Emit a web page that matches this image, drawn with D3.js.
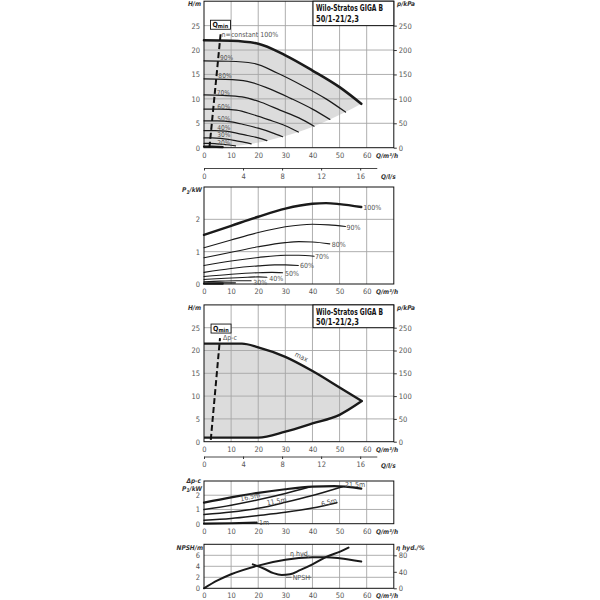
<!DOCTYPE html>
<html>
<head>
<meta charset="utf-8">
<script src="https://cdn.jsdelivr.net/npm/d3@7"></script>
<style>
body { margin: 0; background: #fff; }
svg text { font-family: "Liberation Sans Narrow", "DejaVu Sans Condensed", "DejaVu Sans", sans-serif; font-stretch: condensed; }
</style>
</head>
<body>
<script>
// ---- values ----
var qTicks = [0, 10, 20, 30, 40, 50, 60];      // Q in m3/h
var lsTicks = [0, 4, 8, 12, 16];               // Q in l/s
var hTicks = [0, 5, 10, 15, 20, 25];
var kpaTicks = [0, 50, 100, 150, 200, 250];
var pTicks = [0, 1, 2];
var npshTicks = [0, 2, 4, 6];
var etaTicks = [0, 40, 80];

var title1 = "Wilo-Stratos GIGA B";
var title2 = "50/1-21/2,3";

// panel 1: H(Q) at constant speed
var speedNames = ["90%", "80%", "70%", "60%", "50%", "40%", "30%", "20%"];
var head100 = [[0,22],[10,21.9],[20,21.3],[30,18.9],[40,15.8],[50,12.4],[58,9.0]];
var headSpeeds = [
  [[0,17.8],[9,17.7],[18,17.3],[27,15.3],[36,12.8],[45,10.0],[52.2,7.3]],
  [[0,14.1],[8,14.0],[16,13.6],[24,12.1],[32,10.1],[40,7.9],[46.4,5.8]],
  [[0,10.8],[7,10.7],[14,10.4],[21,9.3],[28,7.7],[35,6.1],[40.6,4.4]],
  [[0,7.9],[6,7.9],[12,7.7],[18,6.8],[24,5.7],[30,4.5],[34.8,3.2]],
  [[0,5.5],[5,5.5],[10,5.3],[15,4.7],[20,4.0],[25,3.1],[29,2.25]],
  [[0,3.5],[4,3.5],[8,3.4],[12,3.0],[16,2.5],[20,2.0],[23.2,1.44]],
  [[0,2.0],[3,2.0],[6,1.9],[9,1.7],[12,1.4],[15,1.1],[17.4,0.8]],
  [[0,0.9],[2,0.9],[4,0.85],[6,0.75],[8,0.63],[10,0.5],[11.6,0.36]]
];
var headMin = [[0,0.22],[3,0.2],[6.9,0.12]];
var headEnds = [[58,9.0],[52.2,7.3],[46.4,5.8],[40.6,4.4],[34.8,3.2],[29,2.25],[23.2,1.44],[17.4,0.8],[11.6,0.36],[5.8,0.09],[0,0]];
var qmin1 = [[2.0,0],[6.15,23.4]];

// panel 2: P1(Q) at constant speed
var powerNames = ["100%", "90%", "80%", "70%", "60%", "50%", "40%", "30%"];
var powerSpeeds = [
  [[0,1.52],[10,1.80],[20,2.08],[30,2.33],[40,2.48],[45,2.5],[50,2.47],[58,2.38]],
  [[0,1.12],[10,1.36],[20,1.59],[30,1.77],[40,1.85],[46,1.83],[52.2,1.78]],
  [[0,0.81],[10,0.98],[20,1.15],[30,1.28],[35,1.31],[40,1.30],[46.4,1.24]],
  [[0,0.57],[10,0.71],[20,0.82],[30,0.89],[35,0.89],[40.6,0.86]],
  [[0,0.36],[10,0.48],[20,0.56],[26,0.59],[30,0.59],[34.8,0.57]],
  [[0,0.23],[10,0.30],[20,0.35],[25,0.36],[29,0.35]],
  [[0,0.14],[8,0.18],[16,0.21],[20,0.22],[23.2,0.21]],
  [[0,0.07],[6,0.09],[12,0.10],[17.4,0.10]]
];
var power20 = [[0,0.03],[6,0.035],[11.6,0.035]];
var powerMin = [[0,0.01],[6.9,0.01]];

// panel 3: dp-c operating range
var maxUpper = [[0,21.5],[14,21.5],[20,20.7],[30,18.6],[40,15.5],[50,11.9],[58.2,8.9]];
var maxLower = [[58.2,8.9],[50,5.9],[40,4.0],[30,2.2],[20,0.9],[0,0.9]];
var qmin3 = [[2.5,0.4],[5.9,22.7]];

// panel 4: P1(Q) at dp-c set values
var dpNames = ["21.5m", "16.5m", "11.5m", "6.5m", "1m"];
var dpPower = [
  [[0,1.48],[10,1.85],[20,2.17],[30,2.42],[40,2.6],[48,2.64],[58,2.47]],
  [[0,0.99],[10,1.3],[20,1.68],[30,2.12],[39,2.58]],
  [[0,0.64],[10,0.82],[20,1.08],[30,1.5],[40,1.98],[51,2.6]],
  [[0,0.24],[10,0.36],[20,0.57],[30,0.8],[40,1.1],[49,1.48]],
  [[0,0.0],[10,0.03],[19.4,0.07]]
];

// panel 5: NPSH and hydraulic efficiency
var etaHyd = [[0,0],[5,19],[10,34],[20,55],[30,69],[40,75],[45,75.5],[50,73],[58,65]];
var npsh = [[18,4.36],[22,3.6],[25.6,2.75],[28.7,2.42],[31.7,2.55],[35.4,3.3],[40,4.36],[45.3,5.76],[50.2,6.67],[53.3,7.4]];

// ---- layout ----
var svg = d3.select("body").append("svg").attr("width", 600).attr("height", 600);
svg.append("rect").attr("width", 600).attr("height", 600).attr("fill", "#fff");

var x = d3.scaleLinear().domain([0, 70]).range([204, 393.8]);
var xls = d3.scaleLinear().domain([0, 17.7]).range([x(0), x(17.7 * 3.6)]);

var y1 = d3.scaleLinear().domain([0, 30]).range([147.7, 1.2]);
var kpa1 = d3.scaleLinear().domain([0, 300]).range([147.7, 1.2]);
var y2 = d3.scaleLinear().domain([0, 3]).range([284, 187]);
var y3 = d3.scaleLinear().domain([0, 30]).range([441.7, 304.9]);
var kpa3 = d3.scaleLinear().domain([0, 300]).range([441.7, 304.9]);
var y4 = d3.scaleLinear().domain([0, 3]).range([523.7, 481]);
var y5 = d3.scaleLinear().domain([0, 8]).range([588.3, 544.3]);
var eta5 = d3.scaleLinear().domain([0, 80]).range([y5(0), y5(6)]);

var gridCol = "#a6a6a6";
var fillCol = "#dcdcdc";
var tickCol = "#555";
var fmt = d3.format("d");

function lineFor(y) {
  return d3.line().x(function(d) { return x(d[0]); }).y(function(d) { return y(d[1]); }).curve(d3.curveMonotoneX);
}

function grid(y, hLines) {
  var g = svg.append("g");
  g.selectAll("line.v").data(qTicks.slice(1)).enter().append("line")
    .attr("x1", function(d) { return x(d); }).attr("x2", function(d) { return x(d); })
    .attr("y1", y.range()[0]).attr("y2", y.range()[1])
    .attr("stroke", gridCol).attr("stroke-width", 0.9);
  g.selectAll("line.h").data(hLines).enter().append("line")
    .attr("x1", x.range()[0]).attr("x2", x.range()[1])
    .attr("y1", function(d) { return y(d); }).attr("y2", function(d) { return y(d); })
    .attr("stroke", gridCol).attr("stroke-width", 0.9);
}

function frame(y) {
  svg.append("rect")
    .attr("x", x.range()[0]).attr("y", y.range()[1])
    .attr("width", x.range()[1] - x.range()[0]).attr("height", y.range()[0] - y.range()[1])
    .attr("fill", "none").attr("stroke", "#111").attr("stroke-width", 1);
}

function styleAxis(g) {
  g.attr("font-family", null).attr("font-size", null);
  g.selectAll("text").attr("font-size", "7.5px").attr("fill", tickCol);
  g.selectAll("line").attr("stroke", "#333");
}

function leftAxis(y, ticks) {
  svg.append("g").attr("transform", "translate(" + x(0) + ",0)")
    .call(d3.axisLeft(y).tickValues(ticks).tickFormat(fmt).tickSize(0).tickPadding(4))
    .call(function(g) { g.select(".domain").remove(); styleAxis(g); });
}

function rightAxis(s, ticks) {
  svg.append("g").attr("transform", "translate(" + x.range()[1] + ",0)")
    .call(d3.axisRight(s).tickValues(ticks).tickFormat(fmt).tickSize(3).tickPadding(2))
    .call(function(g) { g.select(".domain").remove(); styleAxis(g); });
}

function bottomAxis(y) {
  var y0 = y.range()[0];
  svg.append("g").attr("transform", "translate(0," + y0 + ")")
    .call(d3.axisBottom(x).tickValues(qTicks).tickFormat(fmt).tickSize(0).tickPadding(4.5))
    .call(function(g) { g.select(".domain").remove(); styleAxis(g); });
  axisTitle(376, y0 + 10, "Q/m³/h", "start");
}

function lsAxis(yPos) {
  svg.append("g").attr("transform", "translate(0," + yPos + ")")
    .call(d3.axisBottom(xls).tickValues(lsTicks).tickFormat(fmt).tickSize(2.5).tickSizeOuter(0).tickPadding(3))
    .call(function(g) {
      styleAxis(g);
      g.select(".domain").attr("stroke", "#333").attr("stroke-width", 0.9);
    });
  axisTitle(381, yPos + 11, "Q/l/s", "start");
}

function axisTitle(px, py, txt, anchor) {
  return svg.append("text").attr("x", px).attr("y", py).attr("text-anchor", anchor)
    .attr("font-size", "6.5px").attr("font-style", "italic").attr("font-weight", "bold")
    .attr("fill", "#333").text(txt);
}

function label(px, py, txt, rot, anchor) {
  var t = svg.append("text").attr("x", px).attr("y", py).attr("dy", "0.35em")
    .attr("text-anchor", anchor || "start").attr("font-size", "7px").attr("fill", tickCol).text(txt);
  if (rot) t.attr("transform", "rotate(" + rot + "," + px + "," + py + ")");
  return t;
}

function titleBox(y) {
  var bx = x(40.2), by = y(30), bw = x.range()[1] - bx, bh = y(25) - y(30);
  svg.append("rect").attr("x", bx).attr("y", by).attr("width", bw).attr("height", bh)
    .attr("fill", "#fff").attr("stroke", "#111").attr("stroke-width", 1);
  svg.append("text").attr("x", bx + 3).attr("y", by + 10).attr("font-size", "8px")
    .attr("font-weight", "bold").attr("fill", "#111")
    .attr("textLength", 67).attr("lengthAdjust", "spacingAndGlyphs").text(title1);
  svg.append("text").attr("x", bx + 3).attr("y", by + 20.5).attr("font-size", "8px")
    .attr("font-weight", "bold").attr("fill", "#111")
    .attr("textLength", 43).attr("lengthAdjust", "spacingAndGlyphs").text(title2);
}

function qminBox(px, py) {
  svg.append("rect").attr("x", px).attr("y", py).attr("width", 20).attr("height", 9)
    .attr("fill", "#fff").attr("stroke", "#111").attr("stroke-width", 0.9);
  var t = svg.append("text").attr("x", px + 2).attr("y", py + 6.6)
    .attr("font-size", "7px").attr("font-weight", "bold").attr("fill", "#111");
  t.append("tspan").text("Q");
  t.append("tspan").attr("font-size", "5.5px").attr("dy", "1").text("min");
}

function qminLine(y, pts) {
  svg.append("path").attr("d", d3.line().x(function(d) { return x(d[0]); }).y(function(d) { return y(d[1]); })(pts))
    .attr("fill", "none").attr("stroke", "#111").attr("stroke-width", 2).attr("stroke-dasharray", "6,3");
}

function curve(y, pts, w) {
  svg.append("path").attr("d", lineFor(y)(pts))
    .attr("fill", "none").attr("stroke", "#1a1a1a").attr("stroke-width", w).attr("stroke-linecap", "round");
}

function p1Title(px, py) {
  var t = svg.append("text").attr("x", px).attr("y", py).attr("text-anchor", "end")
    .attr("font-size", "6.5px").attr("font-style", "italic").attr("font-weight", "bold").attr("fill", "#333");
  t.append("tspan").text("P");
  t.append("tspan").attr("font-size", "5px").attr("dy", "1.5").text("1");
  t.append("tspan").attr("dy", "-1.5").text("/kW");
}

// ================= panel 1 =================
var l1 = lineFor(y1);
svg.append("path")
  .attr("d", l1(head100) + l1(headEnds).replace(/^M/, "L") + "Z")
  .attr("fill", fillCol);
grid(y1, [5, 10, 15, 20, 25]);
headSpeeds.forEach(function(c) { curve(y1, c, 1.2); });
curve(y1, headMin, 2.2);
curve(y1, head100, 2.6);
qminLine(y1, qmin1);
frame(y1);
titleBox(y1);
leftAxis(y1, hTicks);
rightAxis(kpa1, kpaTicks);
bottomAxis(y1);
lsAxis(168);
axisTitle(201, 6, "H/m", "end");
axisTitle(397, 6, "p/kPa", "start");

var speedLabelAt = [[5.9,18.5],[5.3,14.7],[4.7,11.3],[4.9,8.4],[4.9,6.0],[4.9,4.0],[4.9,2.6],[4.9,1.0]];
label(x(6.5), y1(23.1), "n=constant 100%");
qminBox(x(2.4), y1(26.1));
speedNames.forEach(function(n, i) {
  label(x(speedLabelAt[i][0]), y1(speedLabelAt[i][1]), n).attr("font-size", "6.6px");
});

// ================= panel 2 =================
grid(y2, [1, 2]);
powerSpeeds.forEach(function(c, i) { curve(y2, c, i === 0 ? 2.4 : 1.1); });
curve(y2, power20, 1.1);
curve(y2, powerMin, 2.2);
frame(y2);
leftAxis(y2, pTicks);
bottomAxis(y2);
p1Title(202, 192);
var powerLabelAt = [[58.7,2.36],[52.6,1.76],[47.1,1.23],[40.9,0.86],[35.4,0.57],[29.9,0.33],[24.1,0.18],[18.2,0.05]];
powerNames.forEach(function(n, i) {
  label(x(powerLabelAt[i][0]), y2(powerLabelAt[i][1]), n);
});

// ================= panel 3 =================
var l3 = lineFor(y3);
svg.append("path")
  .attr("d", l3(maxUpper) + l3(maxLower).replace(/^M/, "L") + "Z")
  .attr("fill", fillCol);
grid(y3, [5, 10, 15, 20, 25]);
svg.append("path")
  .attr("d", l3(maxUpper) + l3(maxLower).replace(/^M/, "L"))
  .attr("fill", "none").attr("stroke", "#1a1a1a").attr("stroke-width", 2.4).attr("stroke-linejoin", "round");
qminLine(y3, qmin3);
frame(y3);
titleBox(y3);
leftAxis(y3, hTicks);
rightAxis(kpa3, kpaTicks);
bottomAxis(y3);
lsAxis(456.5);
axisTitle(201, 310, "H/m", "end");
axisTitle(397, 310, "p/kPa", "start");
label(x(7), y3(22.8), "Δp-c");
qminBox(x(2.6), y3(25.8));
label(x(36), y3(18.6), "max", 26, "middle");

// ================= panel 4 =================
grid(y4, [1, 2]);
dpPower.forEach(function(c, i) { curve(y4, c, (i === 0 || i === 4) ? 2.2 : 1.5); });
frame(y4);
leftAxis(y4, pTicks);
bottomAxis(y4);
axisTitle(201, 482.5, "Δp-c", "end");
p1Title(202, 490.5);
var dpLabelAt = [[52,2.74,0],[17,1.88,-12],[26.8,1.57,-10],[46.1,1.52,-16],[20.3,0.07,0]];
dpNames.forEach(function(n, i) {
  label(x(dpLabelAt[i][0]), y4(dpLabelAt[i][1]), n, dpLabelAt[i][2], i === 0 || i === 4 ? "start" : "middle");
});

// ================= panel 5 =================
grid(y5, [2, 4, 6]);
curve(eta5, etaHyd, 2);
curve(y5, npsh, 2);
frame(y5);
leftAxis(y5, npshTicks);
rightAxis(eta5, etaTicks);
bottomAxis(y5);
axisTitle(203, 550, "NPSH/m", "end");
axisTitle(396, 550, "η hyd./%", "start");
label(x(31.7), y5(6.4), "η hyd.");
svg.append("line").attr("x1", x(36.6)).attr("y1", y5(6.25)).attr("x2", x(38.6)).attr("y2", eta5(74.8))
  .attr("stroke", "#555").attr("stroke-width", 0.8);
label(x(32.7), y5(2.0), "NPSH");
svg.append("line").attr("x1", x(30.2)).attr("y1", y5(2.0)).attr("x2", x(32.3)).attr("y2", y5(2.0))
  .attr("stroke", "#555").attr("stroke-width", 0.8);
svg.append("line").attr("x1", x(37.6)).attr("y1", y5(2.0)).attr("x2", x(39.6)).attr("y2", y5(2.0))
  .attr("stroke", "#555").attr("stroke-width", 0.8);
</script>
</body>
</html>
